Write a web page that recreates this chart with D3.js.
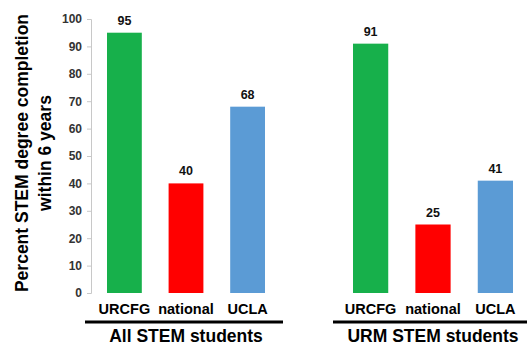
<!DOCTYPE html>
<html><head><meta charset="utf-8">
<script src="https://cdn.jsdelivr.net/npm/d3@7"></script>
<style>body{margin:0;background:#fff}svg{display:block}text{font-family:Arial,"Liberation Sans",sans-serif;font-weight:bold}</style>
</head><body>
<script>
const categories = ["URCFG", "national", "UCLA"];
const groups = ["All STEM students", "URM STEM students"];
const allStem = [95, 40, 68];
const urmStem = [91, 25, 41];
const yTicks = [0, 10, 20, 30, 40, 50, 60, 70, 80, 90, 100];
const colors = ["#17b04b", "#ff0000", "#5b9bd5"];

const W = 527, H = 347;
const svg = d3.select("body").append("svg").attr("width", W).attr("height", H);
const y = d3.scaleLinear().domain([0, 100]).range([293, 19]);

const panels = [
  {name: groups[0], values: allStem, range: [107, 265], line: [85, 283]},
  {name: groups[1], values: urmStem, range: [353, 513], line: [333, 527]}
];

// y axis
const yAxis = d3.axisLeft(y).tickValues(yTicks).tickSize(4).tickPadding(5);
const ga = svg.append("g").attr("transform", "translate(91,0)").call(yAxis);
ga.select(".domain").attr("stroke", "#c8c8c8");
ga.selectAll(".tick line").attr("stroke", "#c8c8c8");
ga.selectAll(".tick text").attr("fill", "#333").style("font-size", "12px").style("font-weight", "bold");

panels.forEach(p => {
  const x = d3.scaleBand().domain(categories).range(p.range).paddingInner(0.435).paddingOuter(0);
  const g = svg.append("g");
  g.selectAll("rect").data(p.values).join("rect")
    .attr("x", (d, i) => x(categories[i]))
    .attr("width", x.bandwidth())
    .attr("y", d => y(d))
    .attr("height", d => y(0) - y(d))
    .attr("fill", (d, i) => colors[i]);
  g.selectAll("text.val").data(p.values).join("text").attr("class", "val")
    .attr("x", (d, i) => x(categories[i]) + x.bandwidth() / 2)
    .attr("y", d => y(d) - 8)
    .attr("text-anchor", "middle").style("font-size", "12.5px").attr("fill", "#111")
    .text(d => d);
  g.selectAll("text.cat").data(categories).join("text").attr("class", "cat")
    .attr("x", d => x(d) + x.bandwidth() / 2)
    .attr("y", 314)
    .attr("text-anchor", "middle").style("font-size", "14.5px").attr("fill", "#000")
    .text(d => d);
  g.append("line").attr("x1", p.line[0]).attr("x2", p.line[1]).attr("y1", 322).attr("y2", 322)
    .attr("stroke", "#000").attr("stroke-width", 3);
  g.append("text").attr("x", (x(categories[0]) + x(categories[2]) + x.bandwidth()) / 2).attr("y", 342)
    .attr("text-anchor", "middle").style("font-size", "17.5px").attr("fill", "#000")
    .text(p.name);
});

const yt = svg.append("text").attr("transform", "translate(0,153) rotate(-90)")
  .attr("text-anchor", "middle").style("font-size", "17.5px").attr("fill", "#000");
yt.append("tspan").attr("x", 0).attr("y", 28).text("Percent STEM degree completion");
yt.append("tspan").attr("x", 0).attr("y", 51).text("within 6 years");
</script>
</body></html>
